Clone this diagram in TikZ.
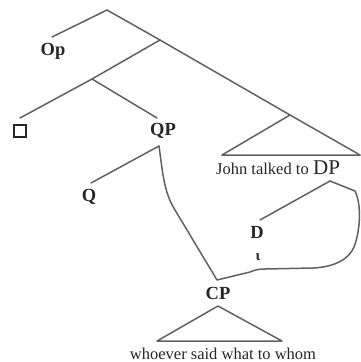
\documentclass[tikz,border=0pt]{standalone}
\usepackage{fontspec}
\setmainfont{Liberation Serif}
\begin{document}
\begin{tikzpicture}[x=1pt,y=-1pt,
  branch/.style={draw=black!62, line width=1.5pt, line join=round, line cap=round},
  lab/.style={inner sep=0pt, font=\fontsize{18.5}{19}\selectfont\bfseries, text=black!85},
  yield/.style={inner sep=0pt, font=\fontsize{16.5}{17}\selectfont, text=black!85}]
\useasboundingbox (0,0) rectangle (361,362);

% tree skeleton
\coordinate (root) at (107,10);
\coordinate (s1) at (160,40);
\coordinate (s2) at (92,79);
\coordinate (opend) at (52,37);
\coordinate (boxend) at (20,118);
\coordinate (qptop) at (157,118);
\coordinate (trtop) at (290,115);
\coordinate (trleft) at (222,155);
\coordinate (trright) at (360,155);
\coordinate (qpbot) at (159,146);
\coordinate (qend) at (91,183);
\coordinate (dpbot) at (330,181);
\coordinate (dtop) at (260,220);
\coordinate (cpc) at (217,280);
\coordinate (cptop) at (218,306);
\coordinate (cpleft) at (157,341);
\coordinate (cpright) at (282,341);

% labels
\node[lab] (op) at (53,51) {Op};
\node[draw=black!85, line width=1.5pt, minimum size=12pt, inner sep=0pt] (box) at (20,131) {};
\node[lab] (qp) at (163,131) {QP};
\node[lab] (q) at (89,197) {Q};
\node[yield, anchor=base west] (john) at (216,174) {John talked to};
\node[yield, font=\fontsize{21}{21}\selectfont, anchor=base west] (dp) at (313,174) {DP};
\node[lab] (d) at (257,232) {D};
\node[yield, font=\fontsize{15}{15}\selectfont\bfseries] (iota) at (258,257) {ι};
\node[lab] (cp) at (218,293) {CP};
\node[yield, anchor=base] (wh) at (223,359) {whoever said what to whom};

% branches
\draw[branch] (root) -- (opend);
\draw[branch] (root) -- (s1) -- (trtop) -- (trright);
\draw[branch] (s1) -- (s2) -- (boxend);
\draw[branch] (s2) -- (qptop);
\draw[branch] (trtop) -- (trleft) -- (trright);
\draw[branch] (qpbot) -- (qend);
\draw[branch] (dpbot) -- (dtop);
\draw[branch] (cptop) -- (cpleft) -- (cpright) -- cycle;

% movement path linking QP, CP and DP
\draw[branch] (qpbot) .. controls (163,175) and (164,192) .. (175,210)
  -- (cpc) -- (250,272) .. controls (255,270) and (258,269) .. (265,269)
  -- (313,268) .. controls (335,267) and (349,259) .. (354,247)
  .. controls (360,232) and (362,205) .. (355,191) -- (dpbot);
\end{tikzpicture}
\end{document}
